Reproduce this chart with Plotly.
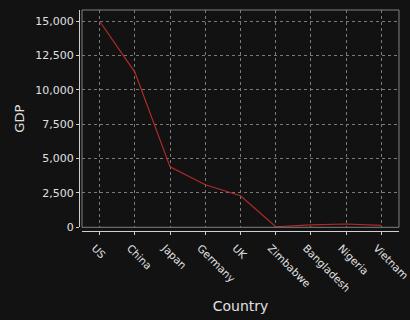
import plotly.graph_objects as go

countries = ["US", "China", "Japan", "Germany", "UK", "Zimbabwe", "Bangladesh", "Nigeria", "Vietnam"]
gdp = [15000, 11300, 4400, 3100, 2300, 40, 170, 240, 140]
y_ticks = [0, 2500, 5000, 7500, 10000, 12500, 15000]

BG = "#121212"
TXT = "#e0e0e0"
AX = "#d0d0d0"
GRID = "#7a7a7a"
FONT = "DejaVu Sans"

fig = go.Figure()
fig.add_trace(go.Scatter(x=countries, y=gdp, mode="lines",
                         line=dict(color="#b22a2a", width=1.2), showlegend=False))

fig.update_layout(
    width=410, height=320,
    margin=dict(l=79, r=11, t=10, b=89, autoexpand=False),
    paper_bgcolor=BG, plot_bgcolor=BG,
    font=dict(family=FONT, color=TXT, size=11),
    xaxis=dict(
        domain=[0.0094, 1], anchor="free", position=0, automargin=False,
        type="category", range=[-0.5, 8.5],
        showline=True, linecolor=AX, linewidth=1,
        ticks="outside", ticklen=3, tickcolor=AX,
        tickangle=45, tickfont=dict(size=10.5, color=TXT),
        ticklabelshift=-5, ticklabelstandoff=3,
        showgrid=True, gridcolor=GRID, griddash="3px,3px", gridwidth=1,
        zeroline=False,
        title=dict(text="Country", font=dict(size=14, color=TXT), standoff=8),
    ),
    yaxis=dict(
        domain=[0.0167, 1], anchor="free", position=0, automargin=False,
        range=[0, 15820], tickvals=y_ticks, tickformat=",",
        showline=True, linecolor=AX, linewidth=1,
        ticks="outside", ticklen=3, tickcolor=AX,
        tickfont=dict(size=11, color=TXT),
        showgrid=True, gridcolor=GRID, griddash="3px,3px", gridwidth=1,
        zeroline=False,
        title=dict(text="GDP", font=dict(size=13, color=TXT), standoff=6),
    ),
    shapes=[dict(type="rect", xref="x domain", yref="y domain", x0=0, x1=1, y0=0, y1=1,
                 line=dict(color="#808080", width=1), layer="above")],
)

fig.write_html("out.html")
